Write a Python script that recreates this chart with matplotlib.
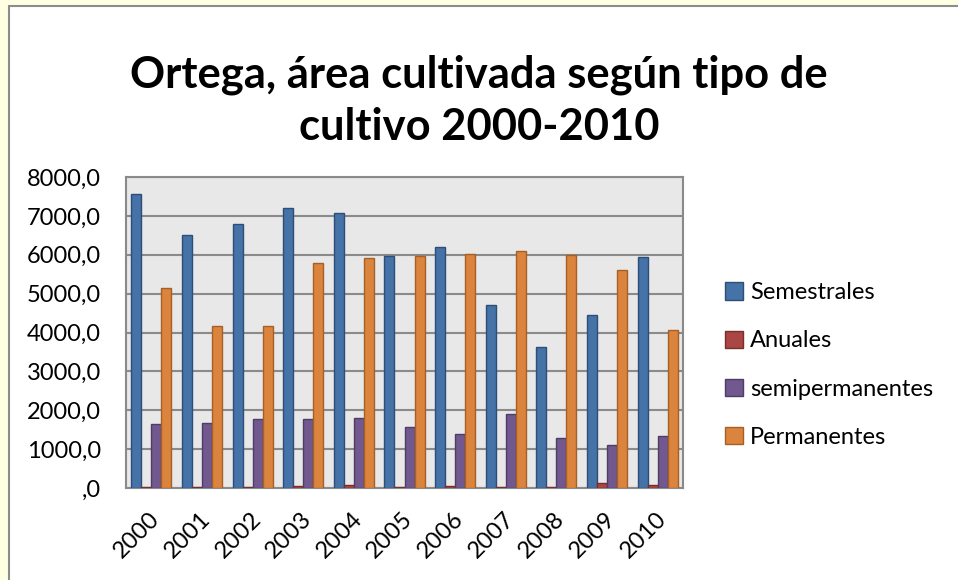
import matplotlib
matplotlib.use("Agg")
import matplotlib.pyplot as plt
import matplotlib.transforms as mtransforms
import numpy as np
from matplotlib.patches import Rectangle
from matplotlib.ticker import FuncFormatter

years = ["2000", "2001", "2002", "2003", "2004", "2005",
         "2006", "2007", "2008", "2009", "2010"]
semestrales = [7570, 6510, 6780, 7200, 7070, 5960, 6210, 4710, 3620, 4450, 5940]
anuales = [30, 30, 30, 50, 70, 30, 40, 30, 20, 120, 90]
semipermanentes = [1650, 1660, 1780, 1780, 1790, 1580, 1390, 1900, 1290, 1100, 1340]
permanentes = [5140, 4180, 4180, 5800, 5910, 5960, 6020, 6100, 6000, 5610, 4060]

series = [
    ("Semestrales", semestrales, "#4572A7", "#2E4E78"),
    ("Anuales", anuales, "#AA4643", "#7A2E2C"),
    ("semipermanentes", semipermanentes, "#71588F", "#4E3D64"),
    ("Permanentes", permanentes, "#DB843D", "#A65F25"),
]

plt.rcParams['font.family'] = ['Lato', 'DejaVu Sans']

fig = plt.figure(figsize=(9.58, 5.8), dpi=100)
fig.patch.set_facecolor("#FFFFE1")
# white chart area with grey frame, kept behind the axes
fig.patches.append(Rectangle((9 / 958, -0.01), 1.0, 1 - 6 / 580 + 0.01,
                             transform=fig.transFigure, facecolor="white",
                             edgecolor="#8C8C8C", linewidth=1.5, zorder=-5))

ax = fig.add_axes([126 / 958, 1 - 488 / 580, (683 - 126) / 958, (488 - 177) / 580])
ax.set_facecolor("#E8E8E8")

x = np.arange(len(years))
w = 0.198
for i, (name, vals, fc, ec) in enumerate(series):
    ax.bar(x + (i - 1.5) * w, vals, width=w, color=fc, edgecolor=ec,
           linewidth=1.0, label=name, zorder=3)

ax.set_xlim(-0.5, len(years) - 0.5)
ax.set_ylim(0, 8000)
ax.set_yticks(np.arange(0, 8001, 1000))
ax.yaxis.set_major_formatter(FuncFormatter(
    lambda v, p: ("%.1f" % v).replace(".", ",").lstrip("0") if v == 0
    else ("%.1f" % v).replace(".", ",")))
ax.yaxis.grid(True, color="#8A8A8A", linewidth=1.5, zorder=1)
ax.set_axisbelow(True)
for s in ax.spines.values():
    s.set_color("#8A8A8A")
    s.set_linewidth(1.5)

ax.set_xticks(x)
ax.set_xticklabels(years, rotation=45, ha="right", va="center",
                   rotation_mode="anchor")
ax.tick_params(axis="y", length=0, pad=18, labelsize=17)
ax.tick_params(axis="x", length=0, pad=20, labelsize=17)
# nudge the rotated year labels a little to the right
shift = mtransforms.ScaledTranslation(5 / 100, 0, fig.dpi_scale_trans)
for lab in ax.get_xticklabels():
    lab.set_transform(lab.get_transform() + shift)

fig.text(0.5, 1 - 75 / 580, "Ortega, área cultivada según tipo de",
         ha="center", va="center", fontsize=31.3, fontweight="bold")
fig.text(0.5, 1 - 127 / 580, "cultivo 2000-2010",
         ha="center", va="center", fontsize=31.3, fontweight="bold")

ax.legend(loc="center left", bbox_to_anchor=(725 / 958, 1 - 365 / 580),
          bbox_transform=fig.transFigure, frameon=False, fontsize=17,
          handlelength=0.75, handleheight=0.75, handletextpad=0.3,
          labelspacing=1.15, borderpad=0, borderaxespad=0)

fig.savefig("out.png", dpi=100, facecolor=fig.get_facecolor())
